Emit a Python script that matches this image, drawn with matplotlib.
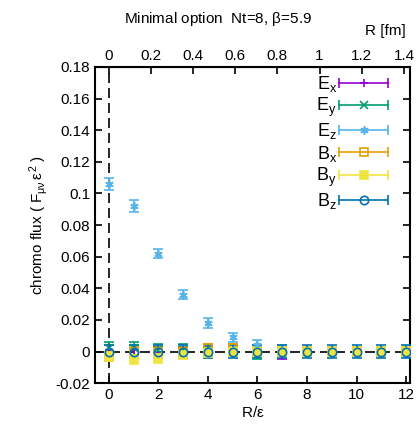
import numpy as np
import matplotlib
matplotlib.use("Agg")
import matplotlib.pyplot as plt
from matplotlib.lines import Line2D
from matplotlib.legend_handler import HandlerBase

plt.rcParams['font.family'] = ['Liberation Sans', 'DejaVu Sans']
plt.rcParams['font.size'] = 11
plt.rcParams['mathtext.fontset'] = 'custom'
plt.rcParams['mathtext.rm'] = 'Liberation Sans'
plt.rcParams['mathtext.it'] = 'Liberation Sans'

# distance in lattice units
r = np.arange(0, 13)

ex = [0.001, 0.001, 0.000, 0.000, 0.000, 0.000, 0.000, -0.002, 0.000, 0.000, 0.000, 0.000, 0.000]
ex_err = [0.003, 0.003, 0.003, 0.003, 0.003, 0.003, 0.003, 0.003, 0.003, 0.003, 0.003, 0.003, 0.003]
ey = [0.002, 0.002, 0.001, 0.001, 0.000, 0.000, -0.002, 0.000, 0.000, 0.000, 0.000, 0.000, 0.000]
ey_err = [0.004, 0.004, 0.004, 0.004, 0.003, 0.003, 0.003, 0.003, 0.003, 0.003, 0.003, 0.003, 0.003]
ez = [0.106, 0.092, 0.062, 0.036, 0.018, 0.009, 0.004, 0.001, 0.000, 0.000, 0.000, 0.000, 0.000]
ez_err = [0.004, 0.004, 0.003, 0.003, 0.003, 0.003, 0.003, 0.003, 0.003, 0.003, 0.003, 0.003, 0.003]
bx = [-0.003, 0.000, 0.000, 0.000, 0.002, 0.002, 0.000, 0.000, 0.000, 0.000, 0.000, 0.000, 0.000]
bx_err = [0.003, 0.003, 0.003, 0.003, 0.003, 0.003, 0.003, 0.003, 0.003, 0.003, 0.003, 0.003, 0.003]
by = [-0.003, -0.005, -0.004, -0.002, -0.001, 0.000, 0.000, 0.000, 0.000, 0.000, 0.000, 0.000, 0.000]
by_err = [0.003, 0.003, 0.003, 0.003, 0.003, 0.003, 0.003, 0.003, 0.003, 0.003, 0.003, 0.003, 0.003]
bz = [0.000, 0.000, 0.000, 0.000, 0.000, 0.000, 0.000, 0.000, 0.000, 0.000, 0.000, 0.000, 0.000]
bz_err = [0.004, 0.004, 0.004, 0.004, 0.004, 0.004, 0.004, 0.004, 0.004, 0.004, 0.004, 0.004, 0.004]

# lattice spacing [fm]
a_fm = 0.1175

series = [
    (r'E$_\mathrm{x}$', ex, ex_err, '#9400d3', '+', 'none'),
    (r'E$_\mathrm{y}$', ey, ey_err, '#009e73', 'x', 'none'),
    (r'E$_\mathrm{z}$', ez, ez_err, '#56b4e9', (6, 2, 0), 'none'),
    (r'B$_\mathrm{x}$', bx, bx_err, '#e69f00', 's', 'none'),
    (r'B$_\mathrm{y}$', by, by_err, '#f0e442', 's', 'full'),
    (r'B$_\mathrm{z}$', bz, bz_err, '#0072b2', 'o', 'none'),
]


class HandlerXErr(HandlerBase):
    # gnuplot-style key sample: horizontal bar with end caps, symbol in the middle
    def create_artists(self, legend, orig_handle, xdescent, ydescent,
                       width, height, fontsize, trans):
        c = orig_handle.get_color()
        y = height / 2 - ydescent
        x0, x1 = -xdescent, width - xdescent
        bar = Line2D([x0, x1], [y, y], color=c, lw=1.2)
        caps = Line2D([x0, x1], [y, y], ls='none', marker='|', ms=7, mew=1.2, color=c)
        mk = Line2D([(x0 + x1) / 2], [y], ls='none', marker=orig_handle.get_marker(),
                    ms=6, mew=1.2, mec=c, mfc=orig_handle.get_markerfacecolor())
        for a in (bar, caps, mk):
            a.set_transform(trans)
        return [bar, caps, mk]


fig = plt.figure(figsize=(4.19, 4.32), dpi=100)
ax = fig.add_axes([0.227, 0.113, 0.751, 0.732])

ax.axhline(0, color='black', lw=1.2, ls=(0, (6, 3)), zorder=1)
ax.axvline(0, color='black', lw=1.2, ls=(0, (6, 3)), zorder=1)

handles = []
labels = []
for label, y, err, c, m, fill in series:
    mfc = c if fill == 'full' else 'none'
    ax.errorbar(r, y, yerr=err, color=c, marker=m, ms=6, mfc=mfc,
                mec=c, mew=1.2, ls='none', elinewidth=1.2, capsize=3.5, capthick=1.2,
                zorder=3)
    handles.append(Line2D([], [], color=c, marker=m, mfc=mfc))
    labels.append(label)

ax.set_xlim(-0.55, 12.15)
ax.set_ylim(-0.02, 0.18)
ax.set_xticks(np.arange(0, 13, 2))
ax.set_yticks(np.arange(-0.02, 0.181, 0.02))
ax.set_yticklabels(['-0.02', '0', '0.02', '0.04', '0.06', '0.08', '0.1', '0.12', '0.14', '0.16', '0.18'])
ax.tick_params(direction='in', length=5, width=1.2, top=False, right=True)
for s in ax.spines.values():
    s.set_linewidth(1.5)

ax.set_xlabel(r'R/$\varepsilon$', labelpad=2)
ax.set_ylabel(r'chromo flux ( F$_{\mu\nu}\,\varepsilon^2$ )', labelpad=4)

top = ax.secondary_xaxis('top', functions=(lambda x: x * a_fm, lambda x: x / a_fm))
top.set_xticks(np.arange(0, 1.41, 0.2))
top.set_xticklabels(['0', '0.2', '0.4', '0.6', '0.8', '1', '1.2', '1.4'])
top.tick_params(direction='in', length=5, width=1.2, pad=3)
fig.text(0.92, 0.928, 'R [fm]', ha='center', va='center', fontsize=11)
fig.text(0.52, 0.955, r'Minimal option  Nt=8, $\beta$=5.9', ha='center', va='center', fontsize=11)

leg = ax.legend(handles, labels, handler_map={Line2D: HandlerXErr()},
                loc='upper right', bbox_to_anchor=(0.932, 0.978), frameon=False,
                markerfirst=False, handlelength=2.75, labelspacing=0.12,
                borderaxespad=0.0, borderpad=0.0, handletextpad=0.1, fontsize=13)
for t in leg.get_texts():
    t.set_ha('right')

fig.savefig('out.png', dpi=100)
